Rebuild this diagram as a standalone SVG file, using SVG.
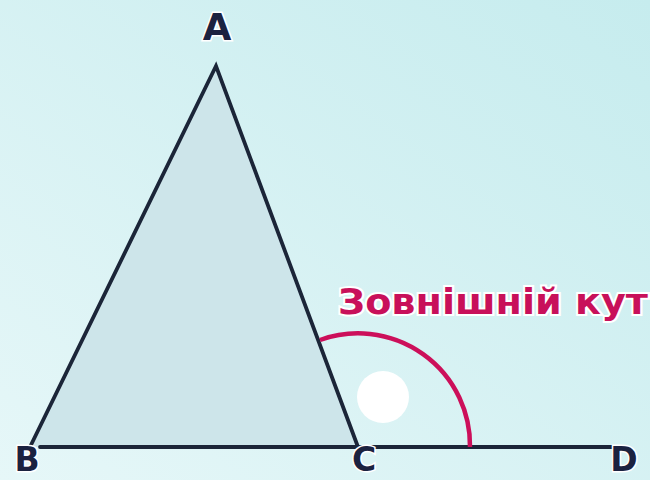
<svg xmlns="http://www.w3.org/2000/svg" width="650" height="480" viewBox="0 0 650 480">
<defs>
<linearGradient id="bg" x1="0" y1="1" x2="1" y2="0">
<stop offset="0" stop-color="#e6f7f8"/>
<stop offset="1" stop-color="#c6ecee"/>
</linearGradient>
<style>
.ln{stroke:#1b2538;stroke-width:3.8;fill:none;stroke-linecap:round}
.lbl{font-family:"DejaVu Sans",sans-serif;font-weight:bold;font-size:37px;fill:#1b2240;stroke:#ffffff;stroke-width:3;paint-order:stroke;text-anchor:middle}
.bot{font-size:33px}
.ext{font-family:"DejaVu Sans",sans-serif;font-weight:bold;font-size:35px;fill:#c8105a;stroke:#ffffff;stroke-width:4;paint-order:stroke}
</style>
</defs>
<rect width="650" height="480" fill="url(#bg)"/>
<g id="triangle">
<polygon points="216,66 30,447 358,447" fill="#cde5ea"/>
<polyline class="ln" points="30,447 216,66 358,447"/>
</g>
<g id="connectors">
<line class="ln" x1="40" y1="447" x2="612" y2="447"/>
<path d="M320,340 A112,112 0 0 1 470,447" fill="none" stroke="#cc0f5a" stroke-width="4.5"/>
</g>
<circle id="dot" cx="383" cy="397" r="26" fill="#ffffff"/>
<g id="labels">
<text class="lbl" x="217" y="40">A</text>
<text class="lbl bot" x="27" y="471">B</text>
<text class="lbl bot" x="364" y="471">C</text>
<text class="lbl bot" x="624" y="471">D</text>
<text class="ext" x="338" y="314" textLength="310" lengthAdjust="spacingAndGlyphs">Зовнішній кут</text>
</g>
</svg>
